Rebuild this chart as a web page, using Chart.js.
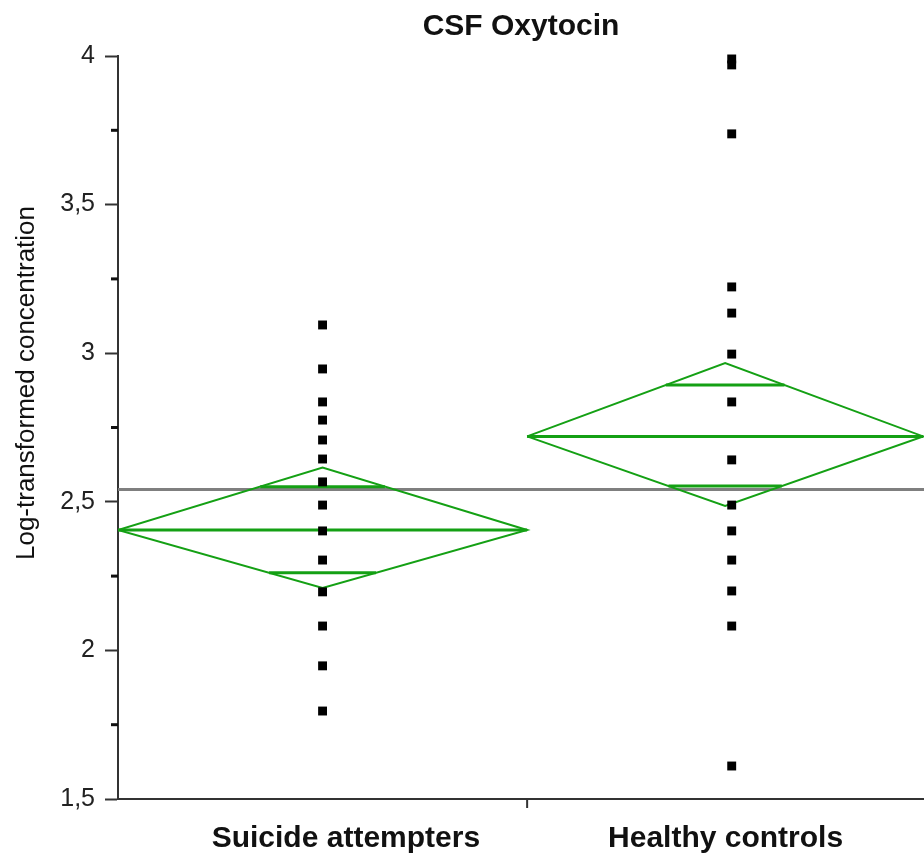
<!DOCTYPE html>
<html>
<head>
<meta charset="utf-8">
<script src="https://cdn.jsdelivr.net/npm/chart.js@4"></script>
<style>
  html, body { margin: 0; padding: 0; background: #fff; overflow: hidden; }
  canvas { display: block; }
</style>
</head>
<body>
<canvas id="oxytocinChart" width="924" height="859"></canvas>
<script>
// data
const categories = ['Suicide attempters', 'Healthy controls'];
const categoryPos = [0.5, 1.5];
const attempters = [3.095, 2.947, 2.836, 2.775, 2.708, 2.644, 2.567, 2.489, 2.402, 2.304, 2.197, 2.082, 1.948, 1.796];
const controls = [3.990, 3.970, 3.738, 3.223, 3.135, 2.997, 2.836, 2.641, 2.489, 2.402, 2.304, 2.200, 2.082, 1.611];
const groupMeans = [2.405, 2.720];
const ciUpper = [2.615, 2.967];
const ciLower = [2.210, 2.486];
const overlapUpper = [2.551, 2.893];
const overlapLower = [2.261, 2.553];
const groupStart = [0, 1];
const groupEnd = [1, 1.968];
const grandMean = 2.541;
const yTicks = [1.5, 2, 2.5, 3, 3.5, 4];
const yMinorTicks = [1.75, 2.25, 2.75, 3.25, 3.75];
const xTicks = [1];

const GREEN = '#14a014';
const FONT = '"Liberation Sans", Arial, sans-serif';
// the category labels in the original are not exactly centred on the groups
const labelNudge = [0.057, -0.015];

function diamond(i) {
    const xs = groupStart[i], xe = groupEnd[i], xc = (xs + xe) / 2;
    return [
        {x: xs, y: groupMeans[i]},
        {x: xc, y: ciUpper[i]},
        {x: xe, y: groupMeans[i]},
        {x: xc, y: ciLower[i]},
        {x: xs, y: groupMeans[i]}
    ];
}

// horizontal segment across the diamond at value v
function segment(i, v) {
    const xs = groupStart[i], xe = groupEnd[i], xc = (xs + xe) / 2;
    const edge = v >= groupMeans[i] ? ciUpper[i] : ciLower[i];
    const f = (v - groupMeans[i]) / (edge - groupMeans[i]);
    return [{x: xs + (xc - xs) * f, y: v}, {x: xe - (xe - xc) * f, y: v}];
}

function lineSet(data, width, color, order) {
    return {
        type: 'line',
        data: data,
        borderColor: color,
        borderWidth: width,
        pointRadius: 0,
        fill: false,
        tension: 0,
        order: order
    };
}

const datasets = [];
datasets.push(lineSet([{x: 0, y: grandMean}, {x: 1.97, y: grandMean}], 3, '#7f7f7f', 3));
[0, 1].forEach(i => {
    datasets.push(lineSet(diamond(i), 2, GREEN, 2));
    datasets.push(lineSet([{x: groupStart[i], y: groupMeans[i]}, {x: groupEnd[i], y: groupMeans[i]}], 3, GREEN, 2));
    datasets.push(lineSet(segment(i, overlapUpper[i]), 3, GREEN, 2));
    datasets.push(lineSet(segment(i, overlapLower[i]), 3, GREEN, 2));
});
[attempters, controls].forEach((vals, i) => {
    datasets.push({
        type: 'scatter',
        data: vals.map(v => ({x: categoryPos[i], y: v})),
        pointStyle: 'rect',
        pointRadius: 6.3,
        pointHoverRadius: 6.3,
        backgroundColor: '#000',
        borderWidth: 0,
        clip: false,
        order: 1
    });
});

// minor y ticks, middle x tick and rotated y title
const extraAxisBits = {
    id: 'extraAxisBits',
    afterDraw(chart) {
        const {ctx, scales: {x, y}, chartArea} = chart;
        ctx.save();
        ctx.fillStyle = '#111';
        yMinorTicks.forEach(v => {
            const py = y.getPixelForValue(v);
            ctx.fillRect(chartArea.left - 7, py - 1.5, 7, 3);
        });
        ctx.fillStyle = '#333';
        xTicks.forEach(v => {
            const px = x.getPixelForValue(v);
            ctx.fillRect(px - 1, chartArea.bottom, 2, 9);
        });
        ctx.translate(27, 383);
        ctx.rotate(-Math.PI / 2);
        ctx.fillStyle = '#111';
        ctx.font = '26px ' + FONT;
        ctx.textAlign = 'center';
        ctx.textBaseline = 'middle';
        ctx.fillText('Log-transformed concentration', 0, 0);
        ctx.restore();
    }
};

const ctx = document.getElementById('oxytocinChart').getContext('2d');
new Chart(ctx, {
    data: {datasets: datasets},
    options: {
        responsive: false,
        animation: false,
        layout: {autoPadding: false, padding: 0},
        plugins: {
            legend: {display: false},
            tooltip: {enabled: false},
            title: {
                display: true,
                text: 'CSF Oxytocin',
                fullSize: false,
                color: '#111',
                font: {family: FONT, size: 30, weight: 'bold'},
                padding: {top: 9, bottom: 11}
            }
        },
        scales: {
            x: {
                type: 'linear',
                min: 0,
                max: 1.97,
                afterBuildTicks: s => { s.ticks = categoryPos.map((v, i) => ({value: v + labelNudge[i]})); },
                afterFit: s => { s.height = 60; s.paddingLeft = 0; s.paddingRight = 0; },
                grid: {display: true, drawOnChartArea: false, drawTicks: false},
                border: {display: true, color: '#333', width: 2},
                ticks: {
                    autoSkip: false,
                    maxRotation: 0,
                    padding: 22,
                    color: '#111',
                    font: {family: FONT, size: 30, weight: 'bold'},
                    callback: (v, i) => categories[i]
                }
            },
            y: {
                type: 'linear',
                min: 1.5,
                max: 4,
                afterBuildTicks: s => { s.ticks = yTicks.map(v => ({value: v})); },
                afterFit: s => { s.width = 118; },
                grid: {drawOnChartArea: false, tickLength: 13, tickWidth: 2, tickColor: '#333'},
                border: {display: true, color: '#333', width: 2},
                ticks: {
                    autoSkip: false,
                    padding: 10,
                    color: '#222',
                    font: {family: FONT, size: 25},
                    callback: v => String(v).replace('.', ',')
                }
            }
        }
    },
    plugins: [extraAxisBits]
});
</script>
</body>
</html>
